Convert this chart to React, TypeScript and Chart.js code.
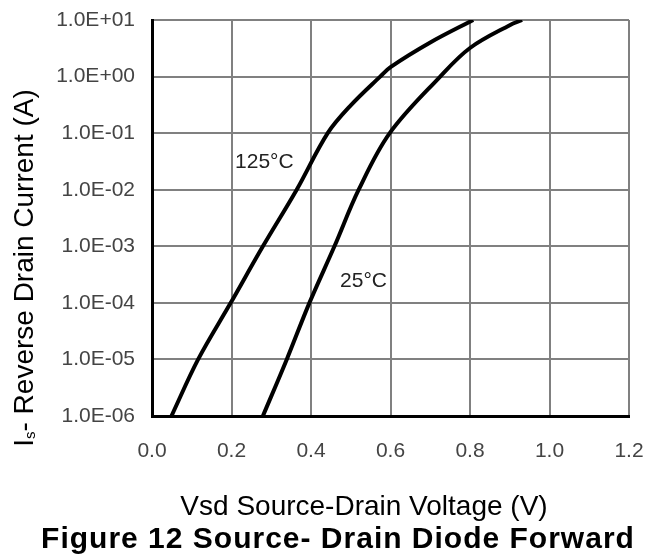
import React, { useEffect, useRef } from "react";
import { Chart, registerables } from "chart.js";

Chart.register(...registerables);

// ---- data ----
const vsd125: number[] = [0.049, 0.116, 0.198, 0.279, 0.364, 0.442, 0.5, 0.574, 0.6, 0.7, 0.808];
const is125: number[] = [1e-6, 1e-5, 1e-4, 1e-3, 1e-2, 1e-1, 0.31, 1.0, 1.47, 4.0, 10];

const vsd25: number[] = [0.279, 0.339, 0.396, 0.459, 0.52, 0.598, 0.725, 0.8, 0.9, 0.931];
const is25: number[] = [1e-6, 1e-5, 1e-4, 1e-3, 1e-2, 1e-1, 1.0, 3.2, 8.1, 10];

const xTicks: number[] = [0, 0.2, 0.4, 0.6, 0.8, 1.0, 1.2];
const yTicks: number[] = [1e-6, 1e-5, 1e-4, 1e-3, 1e-2, 1e-1, 1e0, 1e1];

const curveLabels: string[] = ["125°C", "25°C"];
const curveLabelX: number[] = [0.209, 0.473];
const curveLabelY: number[] = [0.031, 2.4e-4];

const xTitle = "Vsd Source-Drain Voltage (V)";
const yTitleMain = "I";
const yTitleSub = "s";
const yTitleRest = "- Reverse Drain Current (A)";
const figTitle = "Figure 12 Source- Drain Diode Forward";

const FONT = "'Liberation Sans', Arial, sans-serif";

function fmtExp(v: number): string {
  const e = Math.round(Math.log10(v));
  const sign = e < 0 ? "-" : "+";
  const a = Math.abs(e);
  return "1.0E" + sign + (a < 10 ? "0" + a : String(a));
}

const textPlugin = {
  id: "textPlugin",
  afterDraw(chart: any) {
    const ctx = chart.ctx as CanvasRenderingContext2D;
    const xs = chart.scales.x;
    const ys = chart.scales.y;
    ctx.save();
    // curve labels
    ctx.fillStyle = "#222";
    ctx.font = `21px ${FONT}`;
    ctx.textAlign = "left";
    ctx.textBaseline = "middle";
    curveLabels.forEach((t, i) => {
      ctx.fillText(t, xs.getPixelForValue(curveLabelX[i]), ys.getPixelForValue(curveLabelY[i]));
    });
    // x title
    ctx.fillStyle = "#000";
    ctx.textAlign = "center";
    ctx.textBaseline = "alphabetic";
    ctx.font = `28px ${FONT}`;
    ctx.fillText(xTitle, 364, 515);
    // figure title
    ctx.font = `bold 30px ${FONT}`;
    (ctx as any).letterSpacing = "1px";
    ctx.fillText(figTitle, 338, 548);
    (ctx as any).letterSpacing = "0px";
    // y title (rotated, with subscript)
    ctx.translate(33, 268);
    ctx.rotate(-Math.PI / 2);
    ctx.textAlign = "left";
    const mainFont = `28px ${FONT}`;
    const subFont = `15px ${FONT}`;
    ctx.font = mainFont;
    const w1 = ctx.measureText(yTitleMain).width;
    const w3 = ctx.measureText(yTitleRest).width;
    ctx.font = subFont;
    const w2 = ctx.measureText(yTitleSub).width;
    const total = w1 + w2 + w3;
    let x = -total / 2;
    ctx.font = mainFont;
    ctx.fillText(yTitleMain, x, 0);
    x += w1;
    ctx.font = subFont;
    ctx.fillText(yTitleSub, x, 2);
    x += w2;
    ctx.font = mainFont;
    ctx.fillText(yTitleRest, x, 0);
    ctx.restore();
  },
};

export default function App() {
  const ref = useRef<HTMLCanvasElement | null>(null);
  useEffect(() => {
    if (!ref.current) return;
    const chart = new Chart(ref.current, {
      type: "line",
      data: {
        datasets: [
          {
            label: curveLabels[0],
            data: vsd125.map((v, i) => ({ x: v, y: is125[i] })),
            borderColor: "#000",
            borderWidth: 4,
            pointRadius: 0,
            tension: 0.35,
            fill: false,
          },
          {
            label: curveLabels[1],
            data: vsd25.map((v, i) => ({ x: v, y: is25[i] })),
            borderColor: "#000",
            borderWidth: 4,
            pointRadius: 0,
            tension: 0.35,
            fill: false,
          },
        ],
      },
      options: {
        responsive: false,
        animation: false,
        layout: { padding: { left: 0, right: 33, top: 20, bottom: 0 } },
        scales: {
          x: {
            type: "linear",
            min: 0,
            max: 1.2,
            afterBuildTicks: (s: any) => {
              s.ticks = xTicks.map((v) => ({ value: v }));
            },
            afterFit: (s: any) => {
              s.height = 140;
              s.paddingLeft = 0;
              s.paddingRight = 0;
            },
            ticks: {
              callback: (v: any) => Number(v).toFixed(1),
              font: { family: FONT, size: 21 },
              color: "#444",
              padding: 23,
              maxRotation: 0,
              autoSkip: false,
            },
            grid: { color: "#808080", lineWidth: 2, drawTicks: false },
            border: { color: "#000", width: 3 },
          },
          y: {
            type: "logarithmic",
            min: 1e-6,
            max: 10,
            afterBuildTicks: (s: any) => {
              s.ticks = yTicks.map((v) => ({ value: v }));
            },
            afterFit: (s: any) => {
              s.width = 152;
              s.paddingTop = 0;
              s.paddingBottom = 0;
            },
            ticks: {
              callback: (v: any) => fmtExp(Number(v)),
              font: { family: FONT, size: 21 },
              color: "#444",
              padding: 17,
              autoSkip: false,
            },
            grid: { color: "#808080", lineWidth: 2, drawTicks: false },
            border: { color: "#000", width: 3 },
          },
        },
        plugins: {
          legend: { display: false },
          tooltip: { enabled: false },
          title: { display: false },
        },
      } as any,
      plugins: [textPlugin],
    });
    return () => chart.destroy();
  }, []);
  return (
    <div style={{ position: "absolute", left: 0, top: 0, width: 662, height: 556, background: "#fff" }}>
      <canvas ref={ref} width={662} height={556} style={{ display: "block" }} />
    </div>
  );
}
